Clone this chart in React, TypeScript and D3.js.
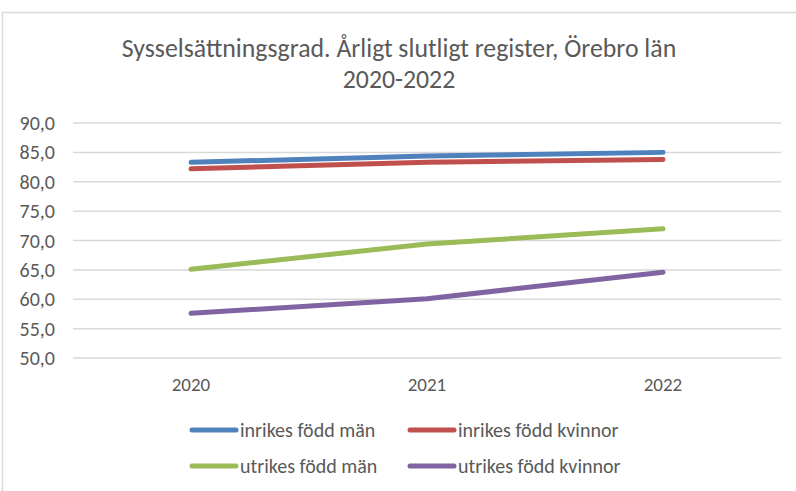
import React, { useEffect } from 'react';
import * as d3 from 'd3';

const years = ['2020', '2021', '2022'];
const inrikesMan = [83.3, 84.4, 85.0];
const inrikesKvinnor = [82.2, 83.3, 83.8];
const utrikesMan = [65.1, 69.4, 72.0];
const utrikesKvinnor = [57.6, 60.1, 64.6];
const yTicks = [50, 55, 60, 65, 70, 75, 80, 85, 90];
const titleLines = ['Sysselsättningsgrad. Årligt slutligt register, Örebro län', '2020-2022'];

const series = [
  { name: 'inrikes född män', values: inrikesMan, color: '#4F81BD' },
  { name: 'inrikes född kvinnor', values: inrikesKvinnor, color: '#C0504D' },
  { name: 'utrikes född män', values: utrikesMan, color: '#9BBB59' },
  { name: 'utrikes född kvinnor', values: utrikesKvinnor, color: '#8064A2' },
];

const FONT = 'Carlito, Lato, sans-serif';
const TEXT = '#595959';

const App: React.FC = () => {
  useEffect(() => {
    document.body.style.margin = '0';
  }, []);

  const width = 796;
  const height = 491;

  const x = d3.scaleBand<string>().domain(years).range([73, 781]);
  const y = d3.scaleLinear().domain([50, 90]).range([358, 123]);
  const fmt = (v: number) => v.toFixed(1).replace('.', ',');

  const line = d3.line<number>()
    .x((_, i) => x(years[i])! + x.bandwidth() / 2)
    .y(d => y(d));

  // legend grid: 2 columns x 2 rows
  const legendX = [192, 410];
  const legendY = [430, 466];

  return (
    <svg width={width} height={height} style={{ display: 'block', background: '#fff' }}>
      <rect x={2.5} y={12.5} width={810} height={500} fill="#fff" stroke="#D9D9D9" strokeWidth={1.5} />

      {titleLines.map((t, i) => (
        <text key={i} x={399} y={57 + i * 31} textAnchor="middle" fill={TEXT}
          style={{ fontFamily: FONT, fontSize: 25.8 }}>{t}</text>
      ))}

      {yTicks.map(t => (
        <g key={t}>
          <line x1={73} x2={781} y1={y(t)} y2={y(t)} stroke="#D9D9D9" strokeWidth={1.5} />
          <text x={55} y={y(t)} dy="0.35em" textAnchor="end" fill={TEXT}
            style={{ fontFamily: FONT, fontSize: 20 }}>{fmt(t)}</text>
        </g>
      ))}

      {years.map(yr => (
        <text key={yr} x={x(yr)! + x.bandwidth() / 2} y={384} dy="0.35em" textAnchor="middle" fill={TEXT}
          style={{ fontFamily: FONT, fontSize: 19 }}>{yr}</text>
      ))}

      {series.map(s => (
        <path key={s.name} d={line(s.values) || ''} fill="none" stroke={s.color}
          strokeWidth={5} strokeLinecap="round" strokeLinejoin="round" />
      ))}

      {series.map((s, i) => {
        const lx = legendX[i % 2];
        const ly = legendY[Math.floor(i / 2)];
        return (
          <g key={s.name}>
            <line x1={lx} x2={lx + 44} y1={ly} y2={ly} stroke={s.color} strokeWidth={5} strokeLinecap="round" />
            <text x={lx + 48} y={ly} dy="0.35em" fill={TEXT}
              style={{ fontFamily: FONT, fontSize: 20 }}>{s.name}</text>
          </g>
        );
      })}
    </svg>
  );
};

export default App;
